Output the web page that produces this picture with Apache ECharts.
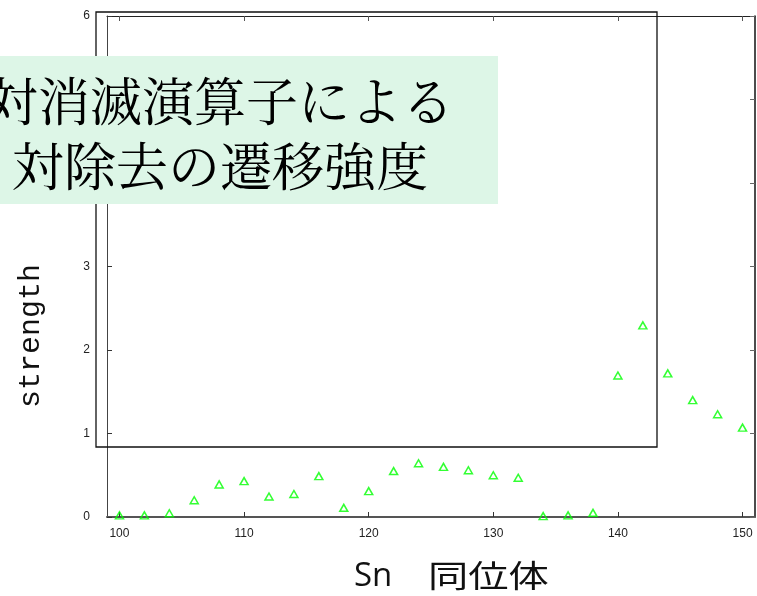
<!DOCTYPE html>
<html><head><meta charset="utf-8">
<script src="https://cdn.jsdelivr.net/npm/echarts@6/dist/echarts.min.js"></script>
<style>html,body{margin:0;padding:0;background:#fff}#c{width:757px;height:596px}</style>
</head><body><div id="c"></div>
<script>
const isotopes = [100,102,104,106,108,110,112,114,116,118,120,122,124,126,128,130,132,134,136,138,140,142,144,146,148,150];
const strength = [0.02,0.02,0.045,0.2,0.39,0.43,0.245,0.276,0.49,0.11,0.31,0.55,0.644,0.60,0.56,0.50,0.47,0.01,0.02,0.05,1.695,2.295,1.72,1.40,1.23,1.07];
const xTicks = [100,110,120,130,140,150];
const titleLines = ['対消滅演算子による','対除去の遷移強度'];
const yName = 'strength';
const xNameA = 'Sn';
const xNameB = '同位体';

const chart = echarts.init(document.getElementById('c'), null, {renderer:'canvas'});
const lab = {fontFamily:'Liberation Sans, Arial, sans-serif', fontSize:12, color:'#222'};
chart.setOption({
  animation:false,
  backgroundColor:'#fff',
  grid:{left:107,right:2,top:16,bottom:79},
  xAxis:[
    {type:'value',min:99,max:151,position:'bottom',
     axisLine:{show:true,onZero:false,lineStyle:{color:'#555',width:2}},
     axisTick:{show:true,inside:true,length:5,customValues:xTicks,lineStyle:{color:'#333'}},
     axisLabel:Object.assign({margin:11,customValues:xTicks},lab),
     splitLine:{show:false}},
    {type:'value',min:99,max:151,position:'top',
     axisLine:{show:true,onZero:false,lineStyle:{color:'#222',width:1}},
     axisTick:{show:true,inside:true,length:5,customValues:xTicks,lineStyle:{color:'#555'}},
     axisLabel:{show:false},splitLine:{show:false}}
  ],
  yAxis:[
    {type:'value',min:0,max:6,interval:1,position:'left',
     axisLine:{show:true,onZero:false,lineStyle:{color:'#444',width:1}},
     axisTick:{show:true,inside:true,length:5,lineStyle:{color:'#333'}},
     axisLabel:Object.assign({margin:17},lab),
     splitLine:{show:false}},
    {type:'value',min:0,max:6,interval:1,position:'right',
     axisLine:{show:true,onZero:false,lineStyle:{color:'#111',width:1.5}},
     axisTick:{show:true,inside:true,length:5,lineStyle:{color:'#666'}},
     axisLabel:{show:false},splitLine:{show:false}}
  ],
  series:[{
    type:'scatter',
    data:isotopes.map((x,i)=>[x,strength[i]]),
    symbol:'triangle',symbolSize:[8,7],
    itemStyle:{color:'rgba(0,0,0,0)',borderColor:'#00ff00',borderWidth:1.5}
  }],
  graphic:[
    {type:'rect',z:50,shape:{x:96,y:12,width:561,height:435},
     style:{fill:'none',stroke:'#111',lineWidth:1.3}},
    {type:'rect',z:60,shape:{x:-80,y:56,width:578,height:148},
     style:{fill:'#ddf6e7'}},
    {type:'text',z:61,x:220,y:101,
     style:{text:titleLines[0],fontSize:52,fontFamily:'Noto Serif CJK JP, Noto Sans CJK JP, serif',fill:'#000',align:'center',verticalAlign:'middle'}},
    {type:'text',z:61,x:220,y:166,
     style:{text:titleLines[1],fontSize:52,fontFamily:'Noto Serif CJK JP, Noto Sans CJK JP, serif',fill:'#000',align:'center',verticalAlign:'middle'}},
    {type:'text',z:61,x:31,y:336,rotation:Math.PI/2,
     style:{text:yName,fontSize:30,fontFamily:'Liberation Mono, monospace',fill:'#111',align:'center',verticalAlign:'middle'}},
    {type:'text',z:61,x:354,y:577,
     style:{text:xNameA,fontSize:33,fontFamily:'Open Sans, Noto Sans, sans-serif',fill:'#111',align:'left',verticalAlign:'middle'}},
    {type:'text',z:61,x:428,y:575,scaleX:1.3,
     style:{text:xNameB,fontSize:31,fontFamily:'Noto Sans CJK JP, sans-serif',fill:'#111',align:'left',verticalAlign:'middle'}}
  ]
});
</script></body></html>
